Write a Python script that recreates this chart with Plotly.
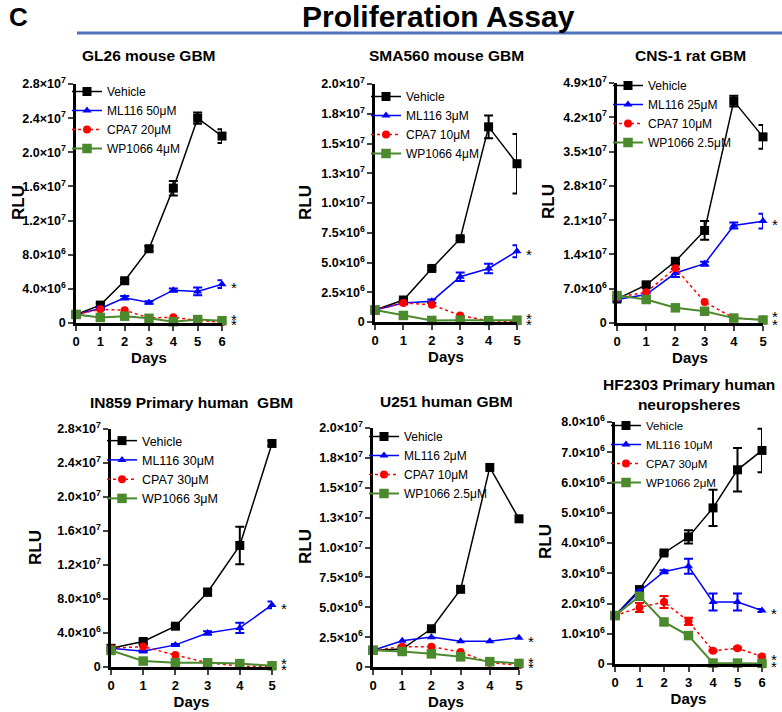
import plotly.graph_objects as go
from plotly.subplots import make_subplots

W, H = 782, 712

DAYS_6 = [0, 1, 2, 3, 4, 5, 6]
DAYS_5 = [0, 1, 2, 3, 4, 5]

# GL26 mouse GBM
GL26_VEHICLE = [1.0e6, 2.1e6, 4.95e6, 8.7e6, 15.8e6, 24.0e6, 21.9e6]
GL26_VEHICLE_ERR = [0.1e6, 0.2e6, 0.2e6, 0.3e6, 0.85e6, 0.65e6, 0.8e6]
GL26_ML116 = [1.0e6, 1.7e6, 2.95e6, 2.4e6, 3.85e6, 3.7e6, 4.55e6]
GL26_ML116_ERR = [0.1e6, 0.15e6, 0.2e6, 0.15e6, 0.2e6, 0.45e6, 0.45e6]
GL26_CPA7 = [1.0e6, 1.6e6, 1.5e6, 0.6e6, 0.67e6, 0.3e6, 0.1e6]
GL26_WP1066 = [1.0e6, 0.65e6, 0.8e6, 0.55e6, 0.15e6, 0.4e6, 0.27e6]

# SMA560 mouse GBM
SMA_VEHICLE = [1.0e6, 1.85e6, 4.5e6, 7.0e6, 16.4e6, 13.3e6]
SMA_VEHICLE_ERR = [0.05e6, 0.1e6, 0.15e6, 0.15e6, 0.95e6, 2.5e6]
SMA_ML116 = [1.0e6, 1.6e6, 1.75e6, 3.8e6, 4.5e6, 5.95e6]
SMA_ML116_ERR = [0.05e6, 0.1e6, 0.15e6, 0.35e6, 0.4e6, 0.5e6]
SMA_CPA7 = [1.0e6, 1.6e6, 1.45e6, 0.55e6, 0.1e6, 0.05e6]
SMA_WP1066 = [1.0e6, 0.55e6, 0.13e6, 0.15e6, 0.12e6, 0.15e6]

# CNS-1 rat GBM
CNS_VEHICLE = [4.9e6, 7.8e6, 12.6e6, 18.9e6, 45.3e6, 38.0e6]
CNS_VEHICLE_ERR = [0.3e6, 0.4e6, 0.5e6, 1.9e6, 1.1e6, 2.4e6]
CNS_ML116 = [4.8e6, 5.8e6, 10.2e6, 12.1e6, 19.9e6, 20.8e6]
CNS_ML116_ERR = [0.2e6, 0.3e6, 0.8e6, 0.4e6, 0.6e6, 1.5e6]
CNS_CPA7 = [5.2e6, 6.3e6, 11.2e6, 4.3e6, 1.0e6, 0.7e6]
CNS_WP1066 = [5.6e6, 4.8e6, 3.1e6, 2.4e6, 1.0e6, 0.6e6]

# IN859 primary human GBM
IN859_VEHICLE = [2.2e6, 3.0e6, 4.8e6, 8.8e6, 14.3e6, 26.3e6]
IN859_VEHICLE_ERR = [0.1e6, 0.2e6, 0.2e6, 0.4e6, 2.2e6, 0.3e6]
IN859_ML116 = [2.2e6, 1.85e6, 2.6e6, 4.0e6, 4.6e6, 7.3e6]
IN859_ML116_ERR = [0.1e6, 0.1e6, 0.1e6, 0.2e6, 0.6e6, 0.4e6]
IN859_CPA7 = [2.2e6, 2.4e6, 1.4e6, 0.5e6, 0.1e6, 0.05e6]
IN859_WP1066 = [1.95e6, 0.7e6, 0.5e6, 0.5e6, 0.4e6, 0.15e6]

# U251 human GBM
U251_VEHICLE = [1.4e6, 1.5e6, 3.2e6, 6.5e6, 16.7e6, 12.4e6]
U251_ML116 = [1.4e6, 2.2e6, 2.5e6, 2.15e6, 2.15e6, 2.45e6]
U251_CPA7 = [1.4e6, 1.7e6, 1.7e6, 1.25e6, 0.35e6, 0.15e6]
U251_WP1066 = [1.4e6, 1.3e6, 1.1e6, 0.85e6, 0.45e6, 0.3e6]

# HF2303 primary human neurospheres
HF_VEHICLE = [1.6e6, 2.46e6, 3.67e6, 4.2e6, 5.16e6, 6.42e6, 7.06e6]
HF_VEHICLE_ERR = [0.02e6, 0.05e6, 0.05e6, 0.22e6, 0.6e6, 0.72e6, 0.72e6]
HF_ML116 = [1.6e6, 2.4e6, 3.05e6, 3.23e6, 2.05e6, 2.05e6, 1.77e6]
HF_ML116_ERR = [0.02e6, 0.05e6, 0.05e6, 0.25e6, 0.28e6, 0.28e6, 0.05e6]
HF_CPA7 = [1.6e6, 1.87e6, 2.05e6, 1.41e6, 0.44e6, 0.52e6, 0.25e6]
HF_CPA7_ERR = [0.02e6, 0.15e6, 0.2e6, 0.12e6, 0.03e6, 0.03e6, 0.03e6]
HF_WP1066 = [1.6e6, 2.24e6, 1.39e6, 0.94e6, 0.03e6, 0.03e6, 0.02e6]

TITLES = ["GL26 mouse GBM", "SMA560 mouse GBM", "CNS-1 rat GBM",
          "IN859 Primary human  GBM", "U251 human GBM",
          "HF2303 Primary human<br>neuropsheres"]

LEGENDS = [
    ["Vehicle", "ML116 50μM", "CPA7 20μM", "WP1066 4μM"],
    ["Vehicle", "ML116 3μM", "CPA7 10μM", "WP1066 4μM"],
    ["Vehicle", "ML116 25μM", "CPA7 10μM", "WP1066 2.5μM"],
    ["Vehicle", "ML116 30μM", "CPA7 30μM", "WP1066 3μM"],
    ["Vehicle", "ML116 2μM", "CPA7 10μM", "WP1066 2.5μM"],
    ["Vehicle", "ML116 10μM", "CPA7 30μM", "WP1066 2μM"],
]

TICKS_28 = [0, 4e6, 8e6, 1.2e7, 1.6e7, 2.0e7, 2.4e7, 2.8e7]
LABELS_28 = ["0", "4.0×10<sup>6</sup>", "8.0×10<sup>6</sup>", "1.2×10<sup>7</sup>",
             "1.6×10<sup>7</sup>", "2.0×10<sup>7</sup>", "2.4×10<sup>7</sup>",
             "2.8×10<sup>7</sup>"]
TICKS_20 = [0, 2.5e6, 5.0e6, 7.5e6, 1.0e7, 1.25e7, 1.5e7, 1.75e7, 2.0e7]
LABELS_20 = ["0", "2.5×10<sup>6</sup>", "5.0×10<sup>6</sup>", "7.5×10<sup>6</sup>",
             "1.0×10<sup>7</sup>", "1.3×10<sup>7</sup>", "1.5×10<sup>7</sup>",
             "1.8×10<sup>7</sup>", "2.0×10<sup>7</sup>"]
TICKS_49 = [0, 7e6, 1.4e7, 2.1e7, 2.8e7, 3.5e7, 4.2e7, 4.9e7]
LABELS_49 = ["0", "7.0×10<sup>6</sup>", "1.4×10<sup>7</sup>", "2.1×10<sup>7</sup>",
             "2.8×10<sup>7</sup>", "3.5×10<sup>7</sup>", "4.2×10<sup>7</sup>",
             "4.9×10<sup>7</sup>"]
TICKS_8 = [0, 1e6, 2e6, 3e6, 4e6, 5e6, 6e6, 7e6, 8e6]
LABELS_8 = ["0", "1.0×10<sup>6</sup>", "2.0×10<sup>6</sup>", "3.0×10<sup>6</sup>",
            "4.0×10<sup>6</sup>", "5.0×10<sup>6</sup>", "6.0×10<sup>6</sup>",
            "7.0×10<sup>6</sup>", "8.0×10<sup>6</sup>"]

panels = [
    (DAYS_6, [GL26_VEHICLE, GL26_ML116, GL26_CPA7, GL26_WP1066],
     [GL26_VEHICLE_ERR, GL26_ML116_ERR, None, None], TICKS_28, LABELS_28),
    (DAYS_5, [SMA_VEHICLE, SMA_ML116, SMA_CPA7, SMA_WP1066],
     [SMA_VEHICLE_ERR, SMA_ML116_ERR, None, None], TICKS_20, LABELS_20),
    (DAYS_5, [CNS_VEHICLE, CNS_ML116, CNS_CPA7, CNS_WP1066],
     [CNS_VEHICLE_ERR, CNS_ML116_ERR, None, None], TICKS_49, LABELS_49),
    (DAYS_5, [IN859_VEHICLE, IN859_ML116, IN859_CPA7, IN859_WP1066],
     [IN859_VEHICLE_ERR, IN859_ML116_ERR, None, None], TICKS_28, LABELS_28),
    (DAYS_5, [U251_VEHICLE, U251_ML116, U251_CPA7, U251_WP1066],
     [None, None, None, None], TICKS_20, LABELS_20),
    (DAYS_6, [HF_VEHICLE, HF_ML116, HF_CPA7, HF_WP1066],
     [HF_VEHICLE_ERR, HF_ML116_ERR, HF_CPA7_ERR, None], TICKS_8, LABELS_8),
]

# pixel boxes of the plot areas (left, right, top, bottom)
boxes = [(76, 222, 84, 323), (375, 517, 84, 322), (617, 763, 83, 323),
         (111, 272, 429, 667), (373, 519, 428, 667), (615, 762, 422, 664)]
legend_tops = [77, 82, 71, 426, 422, 411]
legend_fonts = [12, 12, 12, 12.5, 12, 11.5]
title_y = [55, 55, 55, 402, 401, 394]
rlu_pos = [(18, 203), (305, 203), (548, 202), (35, 548), (305, 547), (545, 542)]
star_low = [(3, -4)] * 5 + [(-3, -3)]

styles = [
    dict(color="black", symbol="square", size=9, dash="solid", width=1.5),
    dict(color="#0000ff", symbol="triangle-up", size=8, dash="solid", width=1.5),
    dict(color="#ff0000", symbol="circle", size=8, dash="dot", width=1.5),
    dict(color="#4a8a2c", symbol="square", size=9.5, dash="solid", width=2),
]

FONT = "Liberation Sans, Arial, sans-serif"

fig = make_subplots(rows=2, cols=3)

annotations = []
for i, (days, series, errs, tvals, ttext) in enumerate(panels):
    row, col = i // 3 + 1, i % 3 + 1
    leg = "legend" if i == 0 else "legend%d" % (i + 1)
    for k, (vals, err) in enumerate(zip(series, errs)):
        st = styles[k]
        fig.add_trace(go.Scatter(
            x=days, y=vals, name=LEGENDS[i][k], legend=leg,
            mode="lines+markers", cliponaxis=False,
            line=dict(color=st["color"], width=st["width"], dash=st["dash"]),
            marker=dict(color=st["color"], symbol=st["symbol"], size=st["size"]),
            error_y=dict(type="data", array=err, visible=err is not None,
                         color=st["color"], thickness=2, width=4.5),
        ), row=row, col=col)

    l, r, t, b = boxes[i]
    n = "" if i == 0 else str(i + 1)
    fig.update_layout({
        "xaxis" + n: dict(domain=[l / W, r / W], range=[0, days[-1]],
                          tickvals=days, ticks="outside", ticklen=5, tickwidth=2,
                          showline=True, linewidth=2.5, linecolor="black",
                          showgrid=False, zeroline=False, automargin=False,
                          tickfont=dict(family=FONT, size=13, weight="bold", color="black"),
                          title=dict(text="Days", standoff=4,
                                     font=dict(family=FONT, size=15, weight="bold", color="black"))),
        "yaxis" + n: dict(domain=[1 - b / H, 1 - t / H], range=[0, tvals[-1]],
                          tickvals=tvals, ticktext=ttext, ticks="outside", ticklen=5,
                          tickwidth=2, showline=True, linewidth=2.5, linecolor="black",
                          showgrid=False, zeroline=False, automargin=False,
                          tickfont=dict(family=FONT, size=12.5, weight="bold", color="black")),
        leg: dict(x=(l - 9) / W, y=1 - legend_tops[i] / H, xanchor="left", yanchor="top",
                  bgcolor="rgba(0,0,0,0)", borderwidth=0, itemwidth=30,
                  tracegroupgap=0, traceorder="normal",
                  font=dict(family=FONT, size=legend_fonts[i], color="black")),
    })

    annotations.append(dict(
        text="<b>%s</b>" % TITLES[i], xref="paper", yref="paper",
        x=(l + r) / 2 / W, y=1 - title_y[i] / H, xanchor="center", yanchor="middle",
        showarrow=False, font=dict(family=FONT, size=15.5, color="black")))

    # y axis title
    annotations.append(dict(
        text="<b>RLU</b>", xref="paper", yref="paper", textangle=-90,
        x=rlu_pos[i][0] / W, y=1 - rlu_pos[i][1] / H, xanchor="center", yanchor="middle",
        showarrow=False, font=dict(family=FONT, size=17, color="black")))

    # significance stars next to the last point of each treated series
    xr = "x" + n
    yr = "y" + n
    shifts = [-3.5, star_low[i][0], star_low[i][1]]
    for k, sh in zip([1, 2, 3], shifts):
        annotations.append(dict(
            text="*", xref=xr, yref=yr, x=days[-1], y=series[k][-1],
            xshift=12, yshift=sh, xanchor="center", yanchor="middle", showarrow=False,
            font=dict(family=FONT, size=15, color="black")))

annotations.append(dict(text="<b>C</b>", xref="paper", yref="paper",
                        x=18 / W, y=1 - 17 / H, xanchor="center", yanchor="middle",
                        showarrow=False, font=dict(family=FONT, size=26, color="black")))
annotations.append(dict(text="<b>Proliferation Assay</b>", xref="paper", yref="paper",
                        x=438 / W, y=1 - 16 / H, xanchor="center", yanchor="middle",
                        showarrow=False, font=dict(family=FONT, size=30, color="black")))

fig.update_layout(
    width=W, height=H,
    margin=dict(l=0, r=0, t=0, b=0),
    paper_bgcolor="white",
    plot_bgcolor="white",
    annotations=annotations,
    shapes=[dict(type="line", xref="paper", yref="paper",
                 x0=77 / W, x1=1, y0=1 - 33 / H, y1=1 - 33 / H,
                 line=dict(color="#4f72b8", width=3))],
)

fig.write_html("out.html", config={"displayModeBar": False},
               post_script="document.body.style.margin='0';"
                           "document.body.style.overflow='hidden';")
